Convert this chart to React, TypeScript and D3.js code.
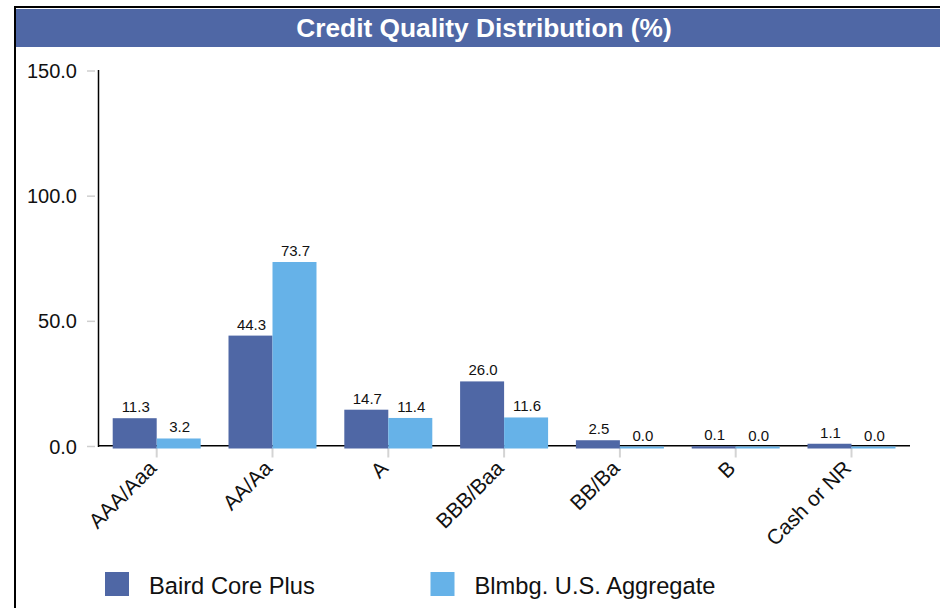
import React from "react";
import * as d3 from "d3";

const categories = ["AAA/Aaa", "AA/Aa", "A", "BBB/Baa", "BB/Ba", "B", "Cash or NR"];
const bairdValues = [11.3, 44.3, 14.7, 26.0, 2.5, 0.1, 1.1];
const aggValues = [3.2, 73.7, 11.4, 11.6, 0.0, 0.0, 0.0];
const seriesNames = ["Baird Core Plus", "Blmbg. U.S. Aggregate"];
const yTicks = [0, 50, 100, 150];
const titleText = "Credit Quality Distribution (%)";

const W = 940;
const H = 608;
const DARK = "#4F67A5";
const LIGHT = "#66B2E8";
const FONT = "'Liberation Sans', Arial, Helvetica, sans-serif";

export default function App() {
  const x0 = d3.scaleBand<string>().domain(categories).range([98.8, 909.4]).padding(0);
  const x1 = d3
    .scaleBand<string>()
    .domain(["s0", "s1"])
    .range([0, x0.bandwidth()])
    .paddingInner(0)
    .paddingOuter(0.316);
  const y = d3.scaleLinear().domain([0, 150]).range([446.5, 71]);
  const y0 = y(0);
  const series = [bairdValues, aggValues];
  const colors = [DARK, LIGHT];
  const fmt = d3.format(".1f");

  return (
    <svg
      width={W}
      height={H}
      style={{ position: "absolute", left: 0, top: 0, fontFamily: FONT }}
    >
      <rect x={0} y={0} width={W} height={H} fill="#fff" />
      {/* frame */}
      <rect x={16} y={9} width={W - 16} height={38} fill={DARK} />
      <line x1={14} x2={W} y1={7} y2={7} stroke="#000" strokeWidth={2} />
      <line x1={15} x2={15} y1={6} y2={H} stroke="#000" strokeWidth={2} />
      <text
        x={484}
        y={36.5}
        textAnchor="middle"
        fill="#fff"
        fontWeight="bold"
        fontSize={26.3}
      >
        {titleText}
      </text>

      {/* y axis */}
      {yTicks.map((t) => (
        <g key={t}>
          <line x1={87} x2={95} y1={y(t)} y2={y(t)} stroke="#cfcfcf" strokeWidth={1.5} />
          <text x={77} y={y(t)} dy="0.35em" textAnchor="end" fontSize={20} fill="#111">
            {fmt(t)}
          </text>
        </g>
      ))}
      <line x1={98.5} x2={98.5} y1={y(150) - 1} y2={y0 + 0.5} stroke="#000" strokeWidth={1.5} />

      {/* x axis */}
      <line x1={98} x2={910} y1={y0 - 0.8} y2={y0 - 0.8} stroke="#000" strokeWidth={1.6} />
      {categories.map((c) => {
        const cx = (x0(c) as number) + x0.bandwidth() / 2;
        return (
          <g key={c}>
            <line x1={cx} x2={cx} y1={y0 + 1} y2={y0 + 11} stroke="#d4d4d4" strokeWidth={2} />
            <text
              transform={`translate(${cx + 1},${y0 + 23}) rotate(-45)`}
              textAnchor="end"
              fontSize={21}
              fill="#111"
            >
              {c}
            </text>
          </g>
        );
      })}

      {/* bars */}
      {categories.map((c, i) => (
        <g key={c} transform={`translate(${x0(c)},0)`}>
          {series.map((s, k) => {
            const bx = x1(k === 0 ? "s0" : "s1") as number;
            const bw = x1.bandwidth();
            const top = y(s[i]);
            return (
              <g key={k}>
                <rect x={bx} y={top} width={bw} height={y0 + 2 - top} fill={colors[k]} />
                <text
                  x={bx + bw / 2 + 1}
                  y={Math.min(top, y0) - 6}
                  textAnchor="middle"
                  fontSize={15}
                  fill="#111"
                >
                  {fmt(s[i])}
                </text>
              </g>
            );
          })}
        </g>
      ))}

      {/* legend */}
      {seriesNames.map((n, k) => {
        const lx = k === 0 ? 105 : 430.5;
        return (
          <g key={n}>
            <rect x={lx} y={572} width={24} height={24} fill={colors[k]} />
            <text x={lx + 44} y={594} fontSize={23.7} fill="#111">
              {n}
            </text>
          </g>
        );
      })}
    </svg>
  );
}
